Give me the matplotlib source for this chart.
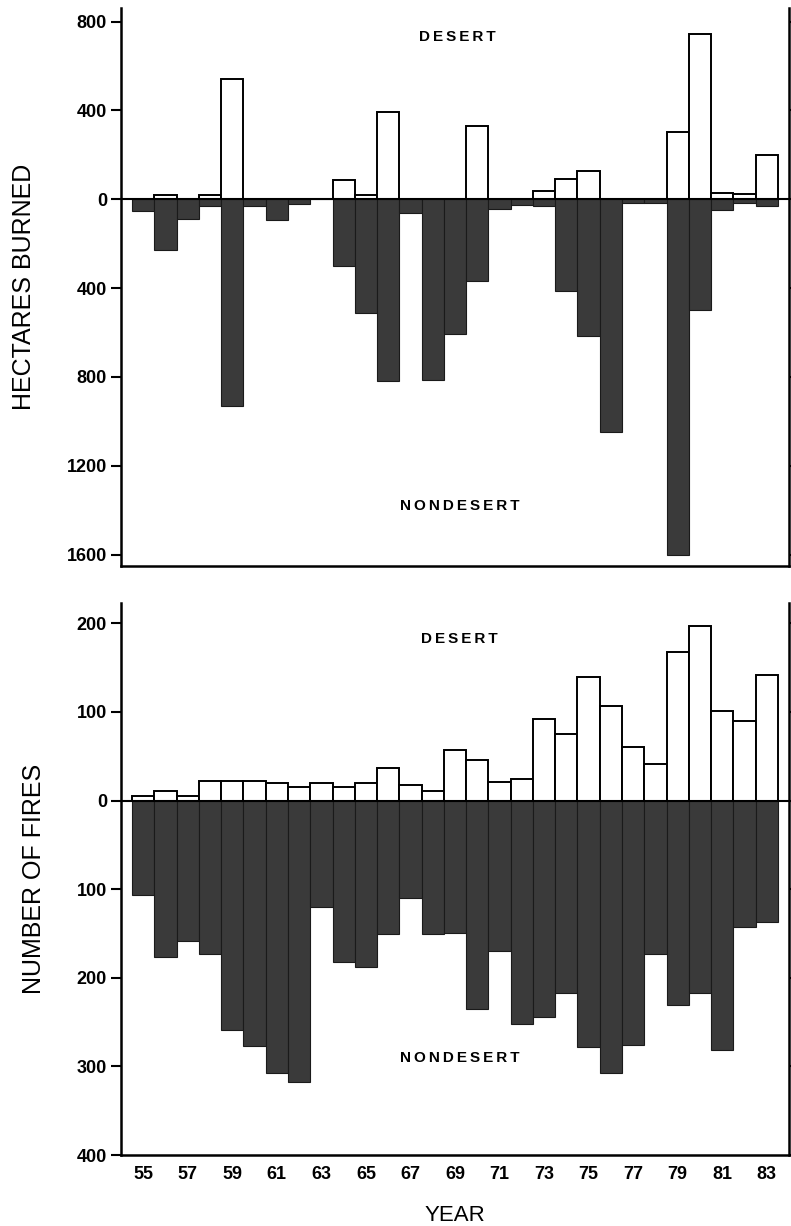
import numpy as np
import matplotlib
matplotlib.use("Agg")
import matplotlib.pyplot as plt
from matplotlib.ticker import FuncFormatter

plt.rcParams['font.family'] = ['Liberation Sans', 'DejaVu Sans']

years = np.arange(55, 84)

# hectares burned
ha_desert = [0, 20, 0, 20, 540, 0, 0, 0, 0, 86, 20, 393, 0, 0, 0,
             332, 0, 0, 36, 91, 128, 0, 0, 0, 302, 744, 27, 25, 199]
ha_nondesert = [55, 230, 88, 30, 930, 30, 95, 20, 0, 300, 510, 820, 63, 815, 605,
                370, 45, 25, 30, 413, 616, 1050, 15, 15, 1600, 500, 48, 15, 30]

# number of fires
nf_desert = [5, 11, 5, 22, 22, 22, 20, 15, 20, 15, 20, 37, 18, 11, 57,
             46, 21, 24, 92, 75, 140, 107, 60, 41, 168, 197, 101, 90, 142]
nf_nondesert = [107, 176, 158, 173, 259, 277, 308, 318, 120, 182, 188, 151, 110, 151, 150,
                235, 170, 252, 244, 217, 278, 307, 276, 173, 231, 217, 282, 143, 137]

year_ticks = np.arange(55, 84, 2)

dark = '#3a3a3a'
W, H = 791, 1226
fig = plt.figure(figsize=(W / 100, H / 100), dpi=100)

ax1 = fig.add_axes([121 / W, 1 - 566 / H, 668 / W, 558 / H])
ax2 = fig.add_axes([121 / W, 1 - 1155 / H, 668 / W, 552 / H])

absfmt = FuncFormatter(lambda v, p: f"{abs(v):.0f}")
sp = '\u2009'


def spaced(s):
    return sp.join(s)


def style(ax, yticks, ylim):
    ax.set_xlim(54, 84)
    ax.set_ylim(*ylim)
    ax.axhline(0, color='black', lw=1.5, zorder=4)
    ax.spines['top'].set_visible(False)
    for s in ['left', 'right', 'bottom']:
        ax.spines[s].set_linewidth(1.8)
    ax.set_yticks(yticks)
    ax.yaxis.set_major_formatter(absfmt)
    ax.tick_params(axis='y', which='both', direction='out', length=7, width=1.5,
                   right=True, labelsize=13, pad=3)
    ax.tick_params(axis='x', length=0, labelsize=13, pad=8)
    for lab in ax.get_yticklabels():
        lab.set_fontweight('bold')


def draw(ax, desert, nondesert):
    ax.bar(years, desert, width=1.0, color='white', edgecolor='black', linewidth=1.4, zorder=2)
    ax.bar(years, -np.array(nondesert), width=1.0, color=dark, edgecolor='#1a1a1a',
           linewidth=0.8, zorder=3)


draw(ax1, ha_desert, ha_nondesert)
style(ax1, [800, 400, 0, -400, -800, -1200, -1600], (-1651, 861))
ax1.set_xticks([])
ax1.set_ylabel("HECTARES BURNED", fontsize=18, labelpad=22)
ax1.text(69.1, 730, spaced("DESERT"), ha='center', va='center', fontsize=11, fontweight='bold')
ax1.text(69.2, -1380, spaced("NONDESERT"), ha='center', va='center', fontsize=11, fontweight='bold')

draw(ax2, nf_desert, nf_nondesert)
style(ax2, [200, 100, 0, -100, -200, -300, -400], (-400, 223))
ax2.set_xticks(year_ticks)
ax2.set_xticklabels([str(y) for y in year_ticks], fontweight='bold')
ax2.set_ylabel("NUMBER OF FIRES", fontsize=18, labelpad=22)
ax2.set_xlabel("YEAR", fontsize=16, labelpad=16)
ax2.text(69.2, 182, spaced("DESERT"), ha='center', va='center', fontsize=11, fontweight='bold')
ax2.text(69.2, -290, spaced("NONDESERT"), ha='center', va='center', fontsize=11, fontweight='bold')

fig.savefig("out.png", dpi=100)
